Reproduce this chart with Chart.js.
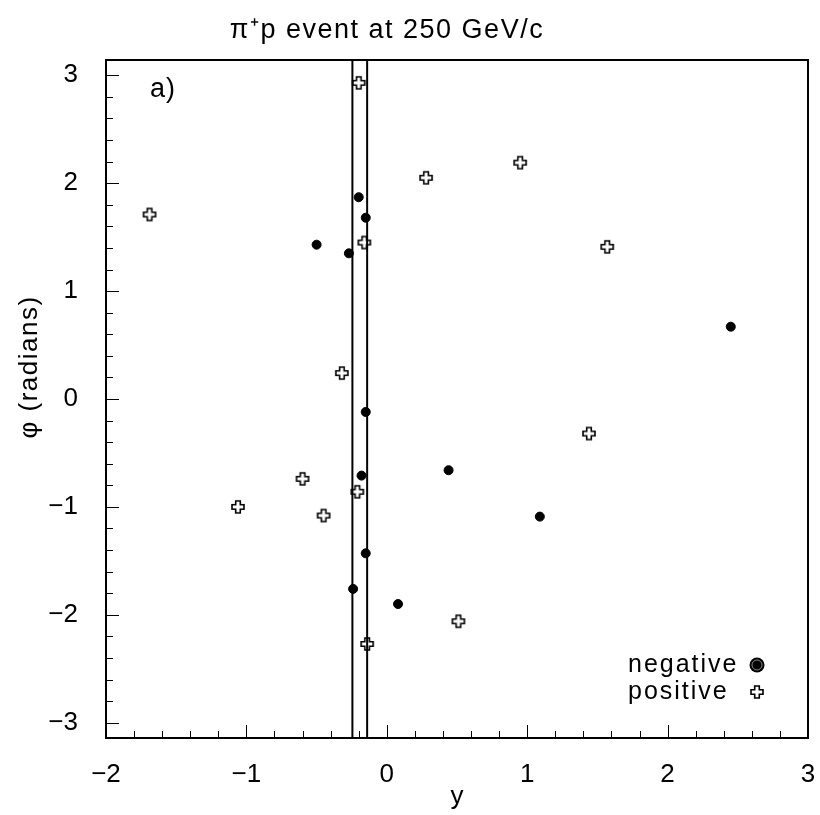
<!DOCTYPE html>
<html lang="en">
<head>
  <meta charset="UTF-8">
  <title>pi+ p event at 250 GeV/c</title>
  <script src="https://cdn.jsdelivr.net/npm/chart.js"></script>
  <style>
    body {
      margin: 0;
      background: #ffffff;
    }
    .wrap {
      width: 820px;
      height: 815px;
    }
  </style>
</head>
<body>

  <div class="wrap">
    <canvas id="eventChart" width="820" height="815"></canvas>
  </div>

  <script>
    // rapidity y and azimuth phi of the tracks
    const negY   = [-0.20, -0.15, -0.50, -0.27, 2.45, -0.15, 0.44, -0.18, 1.09, -0.15, -0.24, 0.08];
    const negPhi = [1.87, 1.68, 1.43, 1.35, 0.67, -0.12, -0.66, -0.71, -1.09, -1.43, -1.76, -1.90];
    const posY   = [-1.69, -0.20, -0.16, 0.95, 0.28, 1.57, 1.44, -0.32, -0.60, -0.21, -1.06, -0.45, 0.51, -0.14];
    const posPhi = [1.71, 2.93, 1.45, 2.19, 2.05, 1.41, -0.32, 0.24, -0.74, -0.86, -1.00, -1.08, -2.06, -2.27];
    const cutLines = [-0.245, -0.14];
    const xTicks = [-2, -1, 0, 1, 2, 3];
    const yTicks = [-3, -2, -1, 0, 1, 2, 3];

    const FONT = "'Liberation Sans', Arial, sans-serif";

    // open plus marker
    function makeCross() {
      const c = document.createElement('canvas');
      c.width = 16; c.height = 16;
      const g = c.getContext('2d');
      const m = 8, a = 2.3, l = 6;
      g.beginPath();
      g.moveTo(m - a, m - l); g.lineTo(m + a, m - l); g.lineTo(m + a, m - a);
      g.lineTo(m + l, m - a); g.lineTo(m + l, m + a); g.lineTo(m + a, m + a);
      g.lineTo(m + a, m + l); g.lineTo(m - a, m + l); g.lineTo(m - a, m + a);
      g.lineTo(m - l, m + a); g.lineTo(m - l, m - a); g.lineTo(m - a, m - a);
      g.closePath();
      g.fillStyle = '#fff';
      g.fill();
      g.lineWidth = 1.6;
      g.strokeStyle = '#000';
      g.stroke();
      return c;
    }
    const cross = makeCross();

    function spacedText(ctx, text, x, y, size, spacing) {
      ctx.font = size + 'px ' + FONT;
      ctx.letterSpacing = spacing + 'px';
      ctx.fillText(text, x, y);
      ctx.letterSpacing = '0px';
    }

    const extras = {
      id: 'extras',
      afterDraw(chart) {
        const ctx = chart.ctx;
        const a = chart.chartArea;
        const xs = chart.scales.x, ys = chart.scales.y;
        ctx.save();
        ctx.strokeStyle = '#000';
        ctx.lineWidth = 2;
        ctx.strokeRect(a.left, a.top, a.right - a.left, a.bottom - a.top);

        // inner ticks every 0.2
        ctx.lineWidth = 1;
        for (let i = -10; i <= 15; i++) {
          const px = Math.round(xs.getPixelForValue(i / 5)) + 0.5;
          const len = (i % 5 === 0) ? 13 : 7;
          ctx.beginPath();
          ctx.moveTo(px, a.bottom);
          ctx.lineTo(px, a.bottom - len);
          ctx.stroke();
        }
        for (let i = -15; i <= 15; i++) {
          const py = Math.round(ys.getPixelForValue(i / 5)) + 0.5;
          const len = (i % 5 === 0) ? 13 : 7;
          ctx.beginPath();
          ctx.moveTo(a.left, py);
          ctx.lineTo(a.left + len, py);
          ctx.stroke();
        }

        ctx.fillStyle = '#000';
        ctx.textAlign = 'center';
        ctx.textBaseline = 'middle';
        spacedText(ctx, '\u03c0\u207ap event at 250 GeV/c', 387, 31, 27, 1.5);

        spacedText(ctx, 'y', (a.left + a.right) / 2, 797, 26, 0);
        ctx.save();
        ctx.translate(30, 367);
        ctx.rotate(-Math.PI / 2);
        spacedText(ctx, '\u03c6 (radians)', 0, 0, 26, 1.5);
        ctx.restore();

        ctx.textAlign = 'left';
        spacedText(ctx, 'a)', 150, 90, 27, 1);

        spacedText(ctx, 'negative', 628, 665, 25, 2);
        spacedText(ctx, 'positive', 628, 692, 25, 2);
        ctx.beginPath();
        ctx.arc(757, 665, 7.5, 0, Math.PI * 2);
        ctx.fill();
        ctx.strokeStyle = '#888';
        ctx.lineWidth = 1;
        ctx.beginPath();
        ctx.arc(757, 665, 5, 0, Math.PI * 2);
        ctx.stroke();
        ctx.drawImage(cross, 749, 684);
        ctx.restore();
      }
    };

    const lineSets = cutLines.map(v => ({
      type: 'line',
      data: [{ x: v, y: -Math.PI }, { x: v, y: Math.PI }],
      borderColor: '#000',
      borderWidth: 2,
      pointRadius: 0,
      fill: false
    }));

    const tickLabel = v => v < 0 ? '\u2212' + Math.abs(v) : String(v);

    new Chart(document.getElementById('eventChart'), {
      type: 'scatter',
      data: {
        datasets: [
          ...lineSets,
          {
            label: 'negative',
            data: negY.map((v, i) => ({ x: v, y: negPhi[i] })),
            backgroundColor: '#000',
            borderColor: '#000',
            pointRadius: 4.5,
            pointStyle: 'circle'
          },
          {
            label: 'positive',
            data: posY.map((v, i) => ({ x: v, y: posPhi[i] })),
            pointStyle: cross,
            pointRadius: 6
          }
        ]
      },
      options: {
        responsive: false,
        animation: false,
        events: [],
        layout: { padding: { left: 0, right: 12, top: 60, bottom: 0 } },
        plugins: {
          legend: { display: false },
          tooltip: { enabled: false }
        },
        scales: {
          x: {
            type: 'linear',
            min: -2,
            max: 3,
            grid: { display: false },
            border: { display: false },
            afterBuildTicks: s => { s.ticks = xTicks.map(v => ({ value: v })); },
            afterFit: s => { s.height = 77; s.paddingLeft = 0; s.paddingRight = 0; },
            ticks: {
              padding: 13,
              color: '#000',
              font: { size: 26, family: FONT },
              callback: tickLabel
            }
          },
          y: {
            type: 'linear',
            min: -Math.PI,
            max: Math.PI,
            grid: { display: false },
            border: { display: false },
            afterBuildTicks: s => { s.ticks = yTicks.map(v => ({ value: v })); },
            afterFit: s => { s.width = 106; s.paddingTop = 0; s.paddingBottom = 0; },
            ticks: {
              padding: 20,
              color: '#000',
              font: { size: 26, family: FONT },
              callback: tickLabel
            }
          }
        }
      },
      plugins: [extras]
    });
  </script>

</body>
</html>
